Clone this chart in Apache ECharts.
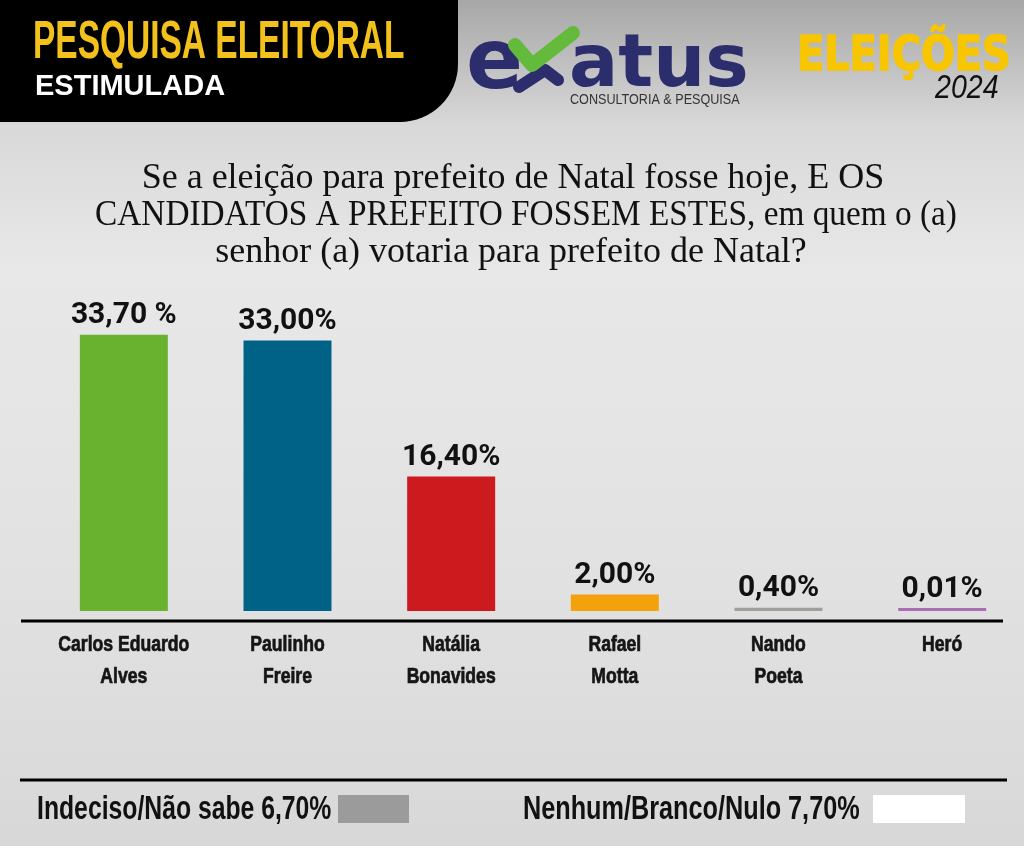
<!DOCTYPE html>
<html>
<head>
<meta charset="utf-8">
<script src="https://cdn.jsdelivr.net/npm/echarts@6/dist/echarts.min.js"></script>
<style>html,body{margin:0;padding:0;}#c{width:1024px;height:846px;}</style>
</head>
<body>
<div id="c"></div>
<script>
const candidates = ['Carlos Eduardo\nAlves', 'Paulinho\nFreire', 'Natália\nBonavides', 'Rafael\nMotta', 'Nando\nPoeta', 'Heró'];
const values = [33.70, 33.00, 16.40, 2.00, 0.40, 0.01];
const valueLabels = ['33,70 %', '33,00%', '16,40%', '2,00%', '0,40%', '0,01%'];
const barColors = ['#69b22f', '#006287', '#cd1a1f', '#f3a20c', '#9f9f9c', '#a86fb0'];
const otherLabels = ['Indeciso/Não sabe', 'Nenhum/Branco/Nulo'];
const otherValues = [6.70, 7.70];
const questionLines = [
  'Se a eleição para prefeito de Natal fosse hoje, E OS',
  'CANDIDATOS A PREFEITO FOSSEM ESTES, em quem o (a)',
  'senhor (a) votaria para prefeito de Natal?'
];

const fmt = v => v.toFixed(2).replace('.', ',') + '%';
const qStyle = t => ({text: t, fill: '#111', font: '36px "Liberation Serif", "DejaVu Serif", serif', align: 'center', verticalAlign: 'middle'});

const chart = echarts.init(document.getElementById('c'), null, {renderer: 'canvas'});
chart.setOption({
  animation: false,
  backgroundColor: {
    type: 'linear', x: 0, y: 0, x2: 0, y2: 1,
    colorStops: [
      {offset: 0, color: '#a7a7a7'},
      {offset: 0.15, color: '#d9d9d9'},
      {offset: 0.32, color: '#e8e8e8'},
      {offset: 0.7, color: '#e1e1e1'},
      {offset: 1, color: '#d8d8d8'}
    ]
  },
  grid: {left: 42, right: 0, top: 283, bottom: 846 - 611},
  xAxis: {
    type: 'category',
    data: candidates,
    axisLine: {show: false},
    axisTick: {show: false},
    axisLabel: {show: false}
  },
  yAxis: {type: 'value', min: 0, max: 40, show: false, splitLine: {show: false}},
  series: [{
    type: 'bar',
    barWidth: 88,
    barMinHeight: 3,
    data: values.map((v, i) => ({value: v, itemStyle: {color: barColors[i]}})),
    label: {
      show: true, position: 'top', distance: 4,
      formatter: p => valueLabels[p.dataIndex],
      fontFamily: 'Roboto, "Liberation Sans", sans-serif', fontWeight: 'bold', fontSize: 30, color: '#111'
    }
  }, {
    // category names, placed through the category axis
    type: 'custom',
    clip: false,
    silent: true,
    data: candidates.map((c, i) => [i, 0]),
    renderItem: (params, api) => {
      const pt = api.coord([api.value(0), 0]);
      return {
        type: 'text',
        x: pt[0], y: pt[1] + 18,
        scaleX: 0.8,
        style: {
          text: candidates[params.dataIndex],
          font: 'bold 22px "Liberation Sans", Arial, sans-serif',
          fill: '#151515', stroke: '#151515', lineWidth: 0.7,
          align: 'center', verticalAlign: 'top', lineHeight: 32
        }
      };
    }
  }],
  graphic: [
    // header block
    {type: 'rect', shape: {x: -10, y: -10, width: 468, height: 132, r: [0, 0, 58, 0]}, style: {fill: '#000'}},
    {type: 'text', x: 33, y: 43, scaleX: 0.62,
      style: {text: 'PESQUISA ELEITORAL', fill: '#f2c11b', font: 'bold 54px "Liberation Sans", Arial, sans-serif', align: 'left', verticalAlign: 'middle'}},
    {type: 'text', x: 35, y: 87,
      style: {text: 'ESTIMULADA', fill: '#ffffff', font: 'bold 29px "Liberation Sans", Arial, sans-serif', align: 'left', verticalAlign: 'middle'}},
    // logo
    {type: 'text', x: 466, y: 66,
      style: {text: 'e', fill: '#2b2d6d', font: 'bold 84px "DejaVu Sans", sans-serif', align: 'left', verticalAlign: 'middle'}},
    {type: 'text', x: 569, y: 67,
      style: {text: 'atus', fill: '#2b2d6d', font: 'bold 73px "DejaVu Sans", sans-serif', align: 'left', verticalAlign: 'middle'}},
    {type: 'polyline', shape: {points: [[519, 87], [545, 70], [558, 80]]},
      style: {stroke: '#2b2d6d', lineWidth: 12, lineCap: 'round', lineJoin: 'round', fill: null}},
    {type: 'polyline', shape: {points: [[515, 45], [532, 65], [573, 33]]},
      style: {stroke: '#63ba3b', lineWidth: 14, lineCap: 'round', lineJoin: 'round', fill: null}},
    {type: 'text', x: 570, y: 100, scaleX: 0.9,
      style: {text: 'CONSULTORIA & PESQUISA', fill: '#333', font: '14px "Liberation Sans", Arial, sans-serif', align: 'left', verticalAlign: 'middle'}},
    // elections badge
    {type: 'text', x: 797, y: 58, scaleX: 0.83,
      style: {text: 'ELEIÇÕES', fill: '#f7c600', stroke: '#f7c600', lineWidth: 1.5, font: 'bold 48px "DejaVu Sans", sans-serif', align: 'left', verticalAlign: 'middle'}},
    {type: 'text', x: 935, y: 89, scaleX: 0.84,
      style: {text: '2024', fill: '#111', font: 'italic 34px "Liberation Sans", sans-serif', align: 'left', verticalAlign: 'middle'}},
    // question
    {type: 'text', x: 513, y: 179, style: qStyle(questionLines[0])},
    {type: 'text', x: 526, y: 216, scaleX: 0.925, style: qStyle(questionLines[1])},
    {type: 'text', x: 511, y: 253, style: qStyle(questionLines[2])},
    // axis line and bottom separator
    {type: 'line', shape: {x1: 21, y1: 621, x2: 1003, y2: 621}, style: {stroke: '#000', lineWidth: 3}},
    {type: 'line', shape: {x1: 20, y1: 780, x2: 1007, y2: 780}, style: {stroke: '#000', lineWidth: 3}},
    // other answers
    {type: 'text', x: 37, y: 810, scaleX: 0.75,
      style: {text: otherLabels[0] + ' ' + fmt(otherValues[0]), fill: '#111', font: 'bold 33px "Liberation Sans", Arial, sans-serif', align: 'left', verticalAlign: 'middle'}},
    {type: 'rect', shape: {x: 338, y: 795, width: 71, height: 28}, style: {fill: '#9b9b9b'}},
    {type: 'text', x: 523, y: 810, scaleX: 0.765,
      style: {text: otherLabels[1] + ' ' + fmt(otherValues[1]), fill: '#111', font: 'bold 33px "Liberation Sans", Arial, sans-serif', align: 'left', verticalAlign: 'middle'}},
    {type: 'rect', shape: {x: 873, y: 795, width: 92, height: 28}, style: {fill: '#ffffff'}}
  ]
});
</script>
</body>
</html>
